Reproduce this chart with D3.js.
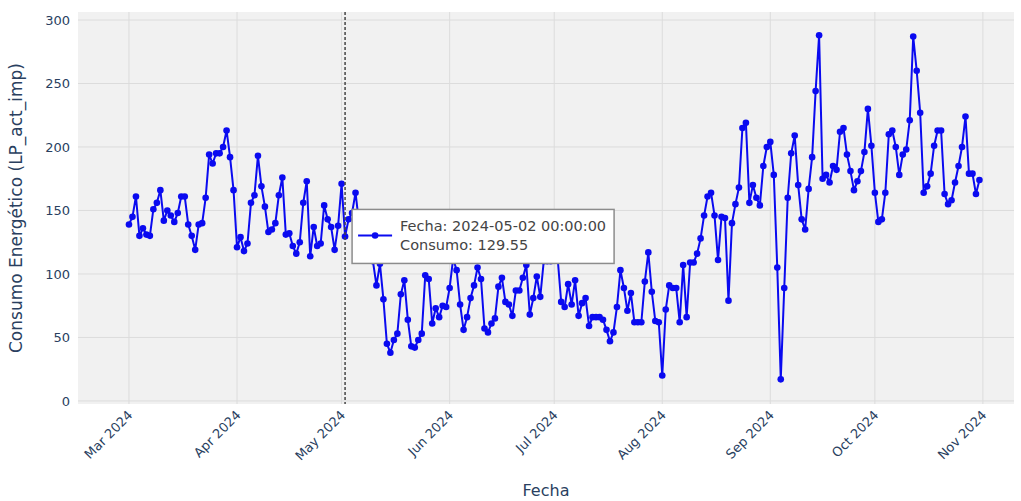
<!DOCTYPE html>
<html>
<head>
<meta charset="utf-8">
<script src="https://cdn.jsdelivr.net/npm/d3@7"></script>
<style>
  body { margin: 0; background: #fff; }
  svg { display: block; }
</style>
</head>
<body>
<div id="plot"></div>
<script>
// daily values, one array per month (2024)
const mar = [139,145,161,130,136,131,130,151,156,166,142,150,146,141,148,161,161,139,130,119,139,140,160,194,187,195,195,200,213,192,166];
const apr = [121,129,118,124,156,162,193,169,153,133,135,140,162,176,131,132,122,116,125,156,173,114,137,122,124,154,143,137,119,138];
const may = [171,129.55,143,148,164,140,128,135,118,110,91,108,80,45,38,48,53,84,95,64,43,42,48,53,99,96,61,73,66,75,74];
const jun = [89,112,103,76,56,66,81,91,105,96,57,54,61,65,90,97,78,76,67,87,87,97,107,68,81,98,82,110,110,110];
const jul = [118,112,78,74,92,76,95,67,77,81,59,66,66,66,64,56,47,54,74,103,89,71,85,62,62,62,94,117,86,63,62];
const aug = [20,72,91,89,89,62,107,66,109,109,116,128,146,161,164,146,111,145,144,79,140,155,168,215,219,156,170,160,154,185,200];
const sep = [204,178,105,17,89,160,195,209,170,143,135,167,192,244,288,175,178,172,185,182,212,215,194,181,166,173,181,196,230,201];
const oct = [164,141,143,164,210,213,200,178,194,198,221,287,260,227,164,169,179,201,213,213,163,155,158,172,185,200,224,179,179,163,174];

const firstDay = "2024-03-01";
const xTicks = ["2024-03-01","2024-04-01","2024-05-01","2024-06-01","2024-07-01","2024-08-01","2024-09-01","2024-10-01","2024-11-01"];
const yTicks = [0, 50, 100, 150, 200, 250, 300];

// hovered point shown in the picture
const hoverDay = "2024-05-02";
const hoverValue = 129.55;

const width = 1021, height = 501;
const marginLeft = 78, marginRight = 7, marginTop = 12, marginBottom = 97;
const font = "DejaVu Sans, Verdana, sans-serif";
const textColor = "#2a3f5f";

const parse = d3.utcParse("%Y-%m-%d");
const start = parse(firstDay);
const values = [].concat(mar, apr, may, jun, jul, aug, sep, oct);
const data = values.map((v, i) => ({date: d3.utcDay.offset(start, i), value: v}));

const x = d3.scaleUtc()
    .domain([d3.utcHour.offset(start, -351), d3.utcHour.offset(parse("2024-11-01"), 214)])
    .range([marginLeft, width - marginRight]);
const y = d3.scaleLinear()
    .domain([-2.4, 306.3])
    .range([height - marginBottom, marginTop]);

const svg = d3.select("#plot").append("svg")
    .attr("width", width)
    .attr("height", height)
    .attr("viewBox", [0, 0, width, height]);

svg.append("rect")
    .attr("x", marginLeft).attr("y", marginTop)
    .attr("width", width - marginLeft - marginRight)
    .attr("height", height - marginTop - marginBottom)
    .attr("fill", "#f1f1f1");

// grid
svg.append("g")
  .selectAll("line")
  .data(yTicks)
  .join("line")
    .attr("x1", marginLeft).attr("x2", width - marginRight)
    .attr("y1", d => y(d)).attr("y2", d => y(d))
    .attr("stroke", "#dcdcdc").attr("stroke-width", 1);

svg.append("g")
  .selectAll("line")
  .data(xTicks.map(parse))
  .join("line")
    .attr("x1", d => x(d)).attr("x2", d => x(d))
    .attr("y1", marginTop).attr("y2", height - marginBottom)
    .attr("stroke", "#dcdcdc").attr("stroke-width", 1);

// axes
const yAxis = d3.axisLeft(y).tickValues(yTicks).tickSize(0).tickPadding(8);
svg.append("g")
    .attr("transform", `translate(${marginLeft},0)`)
    .call(yAxis)
    .call(g => g.select(".domain").remove())
    .call(g => g.selectAll("text")
        .attr("fill", textColor)
        .attr("font-family", font)
        .attr("font-size", 13));

const xAxis = d3.axisBottom(x).tickValues(xTicks.map(parse)).tickFormat(d3.utcFormat("%b %Y")).tickSize(0);
svg.append("g")
    .attr("transform", `translate(0,${height - marginBottom})`)
    .call(xAxis)
    .call(g => g.select(".domain").remove())
    .call(g => g.selectAll("text")
        .attr("fill", textColor)
        .attr("font-family", font)
        .attr("font-size", 13)
        .attr("text-anchor", "end")
        .attr("dy", null)
        .attr("y", 0)
        .attr("transform", "translate(4,12) rotate(-45)"));

svg.append("text")
    .attr("x", (marginLeft + width - marginRight) / 2)
    .attr("y", 496)
    .attr("text-anchor", "middle")
    .attr("fill", textColor)
    .attr("font-family", font)
    .attr("font-size", 16)
    .text("Fecha");

svg.append("text")
    .attr("transform", `translate(22,${(marginTop + height - marginBottom) / 2}) rotate(-90)`)
    .attr("text-anchor", "middle")
    .attr("fill", textColor)
    .attr("font-family", font)
    .attr("font-size", 17)
    .text("Consumo Energético (LP_act_imp)");

// line + markers
const line = d3.line()
    .x(d => x(d.date))
    .y(d => y(d.value));

svg.append("path")
    .datum(data)
    .attr("fill", "none")
    .attr("stroke", "#0a0af0")
    .attr("stroke-width", 2)
    .attr("stroke-linejoin", "round")
    .attr("d", line);

svg.append("g")
  .selectAll("circle")
  .data(data)
  .join("circle")
    .attr("cx", d => x(d.date))
    .attr("cy", d => y(d.value))
    .attr("r", 3.3)
    .attr("fill", "#0a0af0");

// hover: spike line + unified label
const hx = x(parse(hoverDay));
const hy = y(hoverValue);

svg.append("line")
    .attr("x1", hx).attr("x2", hx)
    .attr("y1", marginTop).attr("y2", height - marginBottom)
    .attr("stroke", "#444")
    .attr("stroke-width", 1.5)
    .attr("stroke-dasharray", "3,2");

const tip = svg.append("g").attr("transform", `translate(${hx + 7},${hy})`);
const tipBox = tip.append("rect")
    .attr("y", -27).attr("height", 54)
    .attr("fill", "#fff")
    .attr("stroke", "#8c8c8c")
    .attr("stroke-width", 1.5);

tip.append("line")
    .attr("x1", 6).attr("x2", 40)
    .attr("y1", -1).attr("y2", -1)
    .attr("stroke", "#0a0af0").attr("stroke-width", 2);
tip.append("circle")
    .attr("cx", 23).attr("cy", -1).attr("r", 3.3)
    .attr("fill", "#0a0af0");

const lines = [`Fecha: ${hoverDay} 00:00:00`, `Consumo: ${hoverValue}`];
const tipText = tip.append("g")
  .selectAll("text")
  .data(lines)
  .join("text")
    .attr("x", 48)
    .attr("y", (d, i) => -5 + i * 19)
    .attr("fill", "#444")
    .attr("font-family", font)
    .attr("font-size", 14.5)
    .text(d => d);

const textW = d3.max(tipText.nodes(), n => n.getComputedTextLength());
tipBox.attr("width", 48 + textW + 8);
</script>
</body>
</html>
